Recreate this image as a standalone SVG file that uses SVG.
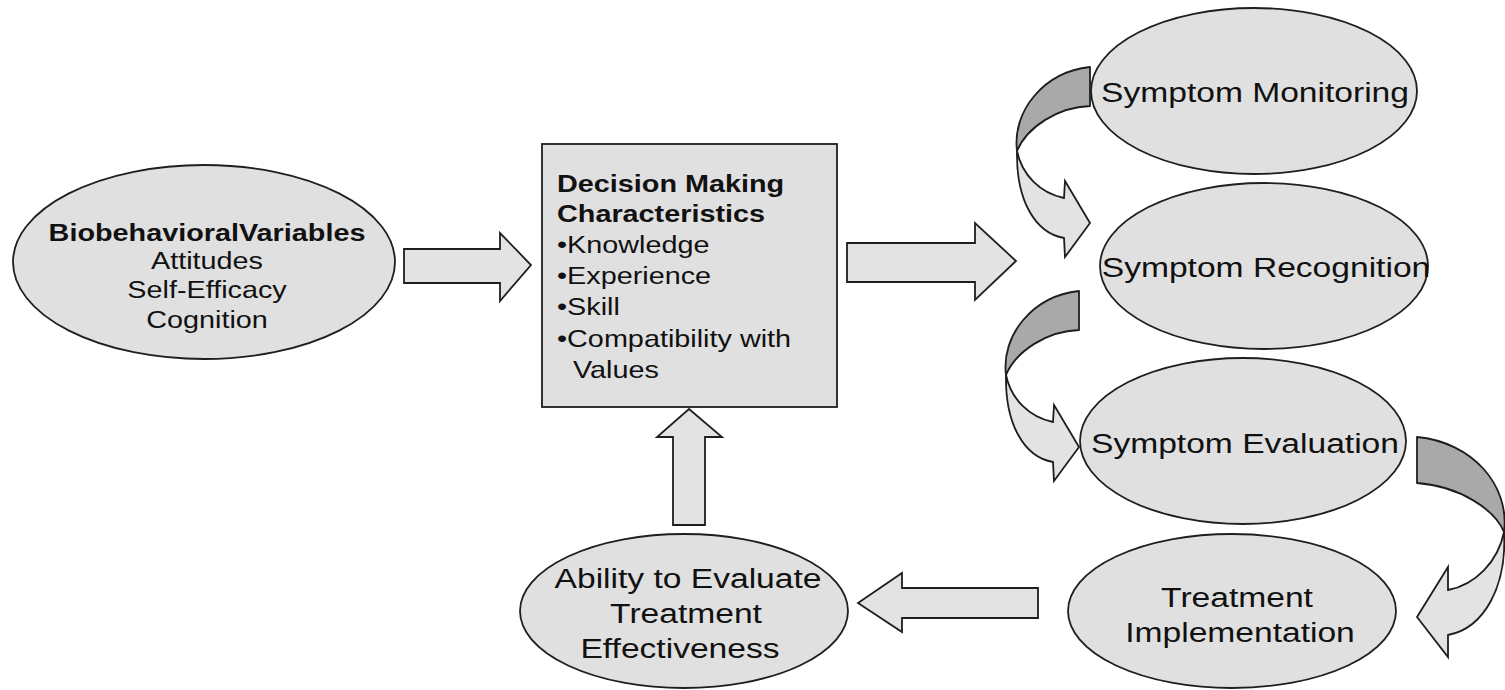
<svg xmlns="http://www.w3.org/2000/svg" width="1505" height="690" viewBox="0 0 1505 690">
  <style>
    .shape { fill: #e0e0e0; stroke: #1e1e1e; stroke-width: 1.8; }
    .back { fill: #a9a9a9; stroke: #1e1e1e; stroke-width: 1.8; stroke-linejoin: round; }
    .arrow { fill: #e3e3e3; stroke: #1e1e1e; stroke-width: 1.8; stroke-linejoin: miter; }
    text { font-family: "Liberation Sans", Arial, sans-serif; fill: #111; }
    .s { font-size: 24px; }
    .l { font-size: 28px; }
    .b { font-weight: bold; }
    .c { text-anchor: middle; }
  </style>
  <rect width="1505" height="690" fill="#ffffff"/>

  <!-- connectors -->
  <g id="connectors">
    <!-- straight block arrows -->
    <path class="arrow" d="M404,249 L500,249 L500,233 L531,265 L500,301 L500,283 L404,283 Z"/>
    <path class="arrow" d="M847,243 L975,243 L975,223 L1016,261 L975,300 L975,282 L847,282 Z"/>
    <path class="arrow" d="M673,525 L673,437 L657,437 L689,409 L722,437 L705,437 L705,525 Z"/>
    <path class="arrow" d="M1038,588 L902,588 L902,573 L858,603 L902,632 L902,618 L1038,618 Z"/>

    <!-- curved arrow: monitoring to recognition -->
    <g id="curve-a">
      <path class="back" d="M1090,67 L1090,106 C1058,107 1027,127 1017,151 C1012,112 1043,72 1090,67 Z"/>
      <path class="arrow" d="M1017,151 C1016,200 1035,233 1064,238 L1065,257 L1090,223 L1065,181 L1064,198 C1040,193 1022,175 1017,151 Z"/>
    </g>
    <!-- curved arrow: recognition to evaluation -->
    <g id="curve-b" transform="translate(-11,224)">
      <path class="back" d="M1090,67 L1090,106 C1058,107 1027,127 1017,151 C1012,112 1043,72 1090,67 Z"/>
      <path class="arrow" d="M1017,151 C1016,200 1035,233 1064,238 L1065,257 L1090,223 L1065,181 L1064,198 C1040,193 1022,175 1017,151 Z"/>
    </g>
    <!-- curved arrow: evaluation to implementation -->
    <g id="curve-c">
      <path class="back" d="M1417,437 L1417,483 C1460,486 1495,510 1504,532 C1510,485 1472,442 1417,437 Z"/>
      <path class="arrow" d="M1504,532 C1507,585 1485,628 1448,635 L1448,657 L1417,617 L1448,567 L1448,590 C1475,585 1498,562 1504,532 Z"/>
    </g>
  </g>

  <!-- nodes -->
  <g id="biobehavioral">
    <ellipse class="shape" cx="204" cy="262" rx="191" ry="97"/>
    <text class="s b c" transform="translate(207,241) scale(1.2,1)">BiobehavioralVariables</text>
    <text class="s c" transform="translate(207,269) scale(1.2,1)">Attitudes</text>
    <text class="s c" transform="translate(207,298) scale(1.2,1)">Self-Efficacy</text>
    <text class="s c" transform="translate(207,328) scale(1.2,1)">Cognition</text>
  </g>

  <g id="decision-making">
    <rect class="shape" x="542" y="144" width="295" height="263"/>
    <text class="s b" transform="translate(557,192) scale(1.2,1)">Decision Making</text>
    <text class="s b" transform="translate(557,222) scale(1.2,1)">Characteristics</text>
    <text class="s" transform="translate(557,253) scale(1.2,1)">•Knowledge</text>
    <text class="s" transform="translate(557,284) scale(1.2,1)">•Experience</text>
    <text class="s" transform="translate(557,315) scale(1.2,1)">•Skill</text>
    <text class="s" transform="translate(557,347) scale(1.2,1)">•Compatibility with</text>
    <text class="s" transform="translate(573,378) scale(1.2,1)">Values</text>
  </g>

  <g id="symptom-monitoring">
    <ellipse class="shape" cx="1254" cy="91" rx="163" ry="83"/>
    <text class="l c" transform="translate(1255,102) scale(1.2,1)">Symptom Monitoring</text>
  </g>

  <g id="symptom-recognition">
    <ellipse class="shape" cx="1264" cy="266" rx="164" ry="83"/>
    <text class="l c" transform="translate(1266,277) scale(1.2,1)">Symptom Recognition</text>
  </g>

  <g id="symptom-evaluation">
    <ellipse class="shape" cx="1243" cy="441" rx="163" ry="83"/>
    <text class="l c" transform="translate(1245,453) scale(1.2,1)">Symptom Evaluation</text>
  </g>

  <g id="treatment-implementation">
    <ellipse class="shape" cx="1232" cy="611" rx="164" ry="77"/>
    <text class="l c" transform="translate(1237,607) scale(1.2,1)">Treatment</text>
    <text class="l c" transform="translate(1240,642) scale(1.2,1)">Implementation</text>
  </g>

  <g id="treatment-effectiveness">
    <ellipse class="shape" cx="684" cy="611" rx="164" ry="77"/>
    <text class="l c" transform="translate(688,588) scale(1.2,1)">Ability to Evaluate</text>
    <text class="l c" transform="translate(686,623) scale(1.2,1)">Treatment</text>
    <text class="l c" transform="translate(680,658) scale(1.2,1)">Effectiveness</text>
  </g>
</svg>
